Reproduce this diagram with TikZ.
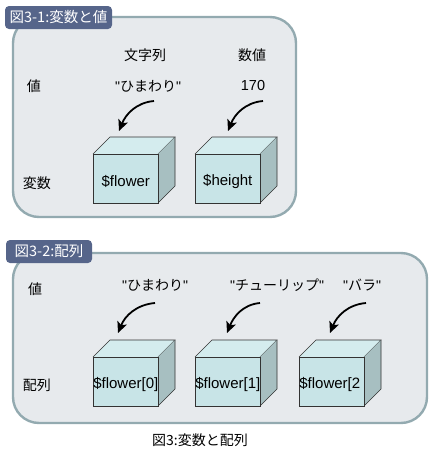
\documentclass[tikz,border=0pt]{standalone}
\usepackage{fontspec}
\setmainfont{Noto Sans CJK JP}
\newfontfamily\latinsf{Liberation Sans}
\usetikzlibrary{arrows.meta}
\definecolor{panelfill}{HTML}{E7EAED}
\definecolor{paneldraw}{HTML}{93AAB0}
\definecolor{tabfill}{HTML}{56658A}
\definecolor{cubefront}{HTML}{C8E4E7}
\definecolor{cubetop}{HTML}{D4ECEE}
\definecolor{cubeside}{HTML}{A7BFC1}
\definecolor{cubeline}{HTML}{333333}
\newcommand\qtext[1]{{\latinsf"}#1{\latinsf"}}
\tikzset{
  panel/.style={fill=panelfill,draw=paneldraw,line width=2.4pt,rounded corners=26pt},
  tabbox/.style={fill=tabfill,draw=none,rounded corners=4pt},
  tabtext/.style={text=white,font=\fontsize{14.5}{16}\selectfont,inner sep=0pt},
  jtext/.style={font=\fontsize{14}{16}\selectfont,inner sep=0pt,text=black},
  cubeface/.style={draw=cubeline,line width=0.6pt,line join=miter},
  cubelabel/.style={font=\latinsf\fontsize{15}{17}\selectfont,inner sep=0pt},
  valarrow/.style={line width=1.8pt,-{Stealth[length=11pt,width=10pt,inset=2.5pt]}},
}
\newcommand\cubeat[3]{% name, x, y (top-left of front face)
  \coordinate (#1) at (#2,#3);
  \fill[cubetop] (#1) -- ++(17,-17) -- ++(65,0) -- ++(-17,17) -- cycle;
  \draw[cubeface] (#1) -- ++(17,-17) -- ++(65,0) -- ++(-17,17);
  \fill[cubeside] ([xshift=65pt]#1) -- ++(17,-17) -- ++(0,49) -- ++(-17,17) -- cycle;
  \draw[cubeface] ([xshift=65pt]#1) ++(17,-17) -- ++(0,49) -- ++(-17,17);
  \node[cubeface,fill=cubefront,minimum width=65pt,minimum height=49pt,inner sep=0pt,anchor=north west] (#1f) at (#1) {};
}
\begin{document}
\begin{tikzpicture}[x=1pt,y=-1pt]
\useasboundingbox (0,0) rectangle (436,453);
% ---------- Panel 1 ----------
\draw[panel] (13,17) rectangle (296,217);
\fill[tabbox] (5,6) rectangle (112,29);
\node[tabtext] (tab1) at (58.5,17.5) {図3-1:変数と値};
\node[jtext] (h1) at (145,55) {文字列};
\node[jtext] (h2) at (252,55) {数値};
\node[jtext] (v1) at (34,86) {値};
\node[jtext] (s1) at (148,86) {\qtext{ひまわり}};
\node[jtext,font=\latinsf\fontsize{14.5}{16}\selectfont] (n1) at (253,86) {170};
\node[jtext] (k1) at (37,183) {変数};
\cubeat{c1}{93}{154}
\cubeat{c2}{195}{154}
\node[cubelabel] (l1) at ([yshift=-3pt]c1f.center) {\$flower};
\node[cubelabel] (l2) at ([yshift=-3pt]c2f.center) {\$height};
\coordinate (a1s) at (154,101); \coordinate (a1e) at (119,131);
\coordinate (a2s) at (263,101); \coordinate (a2e) at (228,131);
\draw[valarrow] (a1s) to[out=185,in=68] (a1e);
\draw[valarrow] (a2s) to[out=185,in=68] (a2e);
% ---------- Panel 2 ----------
\draw[panel] (13,253) rectangle (427,423);
\fill[tabbox] (6,240) rectangle (92,263);
\node[tabtext] (tab2) at (49,251.5) {図3-2:配列};
\node[jtext] (v2) at (35,289) {値};
\node[jtext] (s2) at (155,285) {\qtext{ひまわり}};
\node[jtext] (s3) at (277,285) {\qtext{チューリップ}};
\node[jtext] (s4) at (362,285) {\qtext{バラ}};
\node[jtext] (k2) at (37,385) {配列};
\cubeat{d1}{93}{357}
\cubeat{d2}{195}{357}
\cubeat{d3}{299}{357}
\node[cubelabel] (m1) at ([yshift=-3pt]d1f.center) {\$flower[0]};
\node[cubelabel] (m2) at ([yshift=-3pt]d2f.center) {\$flower[1]};
\node[cubelabel] (m3) at ([yshift=-3pt,xshift=-2pt]d3f.center) {\$flower[2};
\coordinate (b1s) at (155,303); \coordinate (b1e) at (118,333);
\coordinate (b2s) at (260,303); \coordinate (b2e) at (227,333);
\coordinate (b3s) at (366,303); \coordinate (b3e) at (330,333);
\draw[valarrow] (b1s) to[out=185,in=68] (b1e);
\draw[valarrow] (b2s) to[out=185,in=68] (b2e);
\draw[valarrow] (b3s) to[out=185,in=68] (b3e);
% ---------- Caption ----------
\node[jtext] (cap) at (200,440) {図3:変数と配列};
\end{tikzpicture}
\end{document}
